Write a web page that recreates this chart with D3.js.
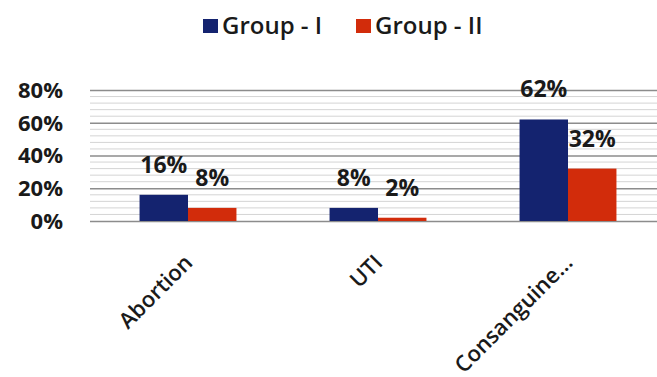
<!DOCTYPE html>
<html>
<head>
<meta charset="utf-8">
<script src="https://cdn.jsdelivr.net/npm/d3@7"></script>
<style>
  body { margin: 0; background: #fff; }
  text { font-family: "Open Sans", sans-serif; fill: #1a1a1a; }
</style>
</head>
<body>
<div id="chart"></div>
<script>
// chart data
var categories = ["Abortion", "UTI", "Consanguine..."];
var groups = ["Group - I", "Group - II"];
var groupI = [0.16, 0.08, 0.62];
var groupII = [0.08, 0.02, 0.32];
var yTicks = [0, 0.2, 0.4, 0.6, 0.8];
var colors = ["#14236f", "#d22c0b"];

var width = 657, height = 377;

var svg = d3.select("#chart")
    .append("svg")
    .attr("width", width)
    .attr("height", height);

var x = d3.scaleBand()
    .domain(categories)
    .range([93, 663])
    .paddingInner(0.49)
    .paddingOuter(0.245);

var xs = d3.scaleBand()
    .domain(groups)
    .range([0, x.bandwidth()]);

var y = d3.scaleLinear()
    .domain([0, 0.8])
    .range([221, 90]);

// minor gridlines every 4%
var minor = d3.range(0, 0.8001, 0.04).filter(function (v) {
    return Math.round(v * 100) % 20 != 0;
});
svg.append("g")
    .selectAll("line")
    .data(minor)
    .enter()
    .append("line")
    .attr("x1", 90).attr("x2", width)
    .attr("y1", d => y(d)).attr("y2", d => y(d))
    .attr("stroke", "#d4d4d4")
    .attr("stroke-width", 1);

// y axis with major gridlines
var yAxis = svg.append("g")
    .attr("transform", "translate(90,0)")
    .call(d3.axisLeft(y)
        .tickValues(yTicks)
        .tickSize(-(width - 90))
        .tickPadding(27)
        .tickFormat(d3.format(".0%")));
yAxis.select(".domain").remove();
yAxis.selectAll(".tick line")
    .attr("stroke", "#8c8c8c")
    .attr("stroke-width", 1.6);
yAxis.selectAll(".tick text")
    .style("font-size", "22px")
    .style("font-weight", "700")
    .attr("fill", "#1a1a1a")
    .attr("dy", "0.34em");

// bars
var rows = categories.map(function (c, i) {
    return { cat: c, values: [groupI[i], groupII[i]] };
});

var cat = svg.selectAll(".cat")
    .data(rows)
    .enter()
    .append("g")
    .attr("transform", d => "translate(" + x(d.cat) + ",0)");

cat.selectAll("rect")
    .data(d => d.values.map((v, j) => ({ g: groups[j], v: v, j: j })))
    .enter()
    .append("rect")
    .attr("x", d => xs(d.g))
    .attr("y", d => y(d.v))
    .attr("width", xs.bandwidth())
    .attr("height", d => y(0) - y(d.v))
    .attr("fill", d => colors[d.j]);

cat.selectAll(".lbl")
    .data(d => d.values.map((v, j) => ({ g: groups[j], v: v, j: j })))
    .enter()
    .append("text")
    .attr("class", "lbl")
    .attr("x", d => xs(d.g) + xs.bandwidth() / 2)
    .attr("y", d => y(d.v) - 22)
    .attr("text-anchor", "middle")
    .style("font-size", "23px")
    .style("font-weight", "700")
    .text(d => d3.format(".0%")(d.v));

// category labels, rotated
svg.append("g")
    .selectAll("text")
    .data(categories)
    .enter()
    .append("text")
    .attr("transform", d => "translate(" + (x(d) + x.bandwidth() / 2 + 6) + ",264) rotate(-45)")
    .attr("text-anchor", "end")
    .style("font-size", "22px")
    .style("font-weight", "600")
    .text(d => d);

// legend
var legendX = [203, 356];
var legend = svg.append("g")
    .selectAll("g")
    .data(groups)
    .enter()
    .append("g")
    .attr("transform", (d, i) => "translate(" + legendX[i] + ",19)");
legend.append("rect")
    .attr("width", 15)
    .attr("height", 14)
    .attr("fill", (d, i) => colors[i]);
legend.append("text")
    .attr("x", 19)
    .attr("y", 15)
    .style("font-size", "24px")
    .style("font-weight", "600")
    .text(d => d);
</script>
</body>
</html>
